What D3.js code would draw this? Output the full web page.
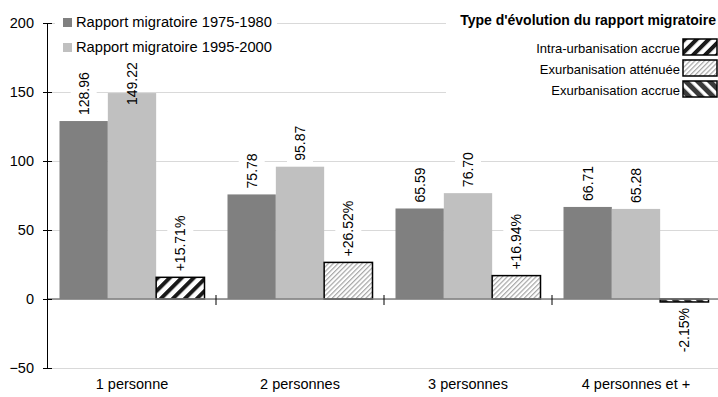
<!DOCTYPE html>
<html>
<head>
<meta charset="utf-8">
<script src="https://cdn.jsdelivr.net/npm/d3@7"></script>
<style>
  html, body { margin: 0; padding: 0; background: #fff; }
  svg { display: block; font-family: "Liberation Sans", Arial, sans-serif; }
</style>
</head>
<body>
<svg id="chart" width="718" height="397"></svg>
<script>
// Household size categories
const categories = ["1 personne", "2 personnes", "3 personnes", "4 personnes et +"];
// Migration ratio for the two periods
const rapport1975 = [128.96, 75.78, 65.59, 66.71];
const rapport1995 = [149.22, 95.87, 76.70, 65.28];
// Change between the two periods (%)
const evolution = [15.71, 26.52, 16.94, -2.15];
// Kind of change for each category (index into typeLabels)
const evolutionType = [0, 1, 1, 2];
const typeLabels = ["Intra-urbanisation accrue", "Exurbanisation atténuée", "Exurbanisation accrue"];
const seriesLabels = ["Rapport migratoire 1975-1980", "Rapport migratoire 1995-2000"];
const legendTitle = "Type d'évolution du rapport migratoire";
const yTicks = [-50, 0, 50, 100, 150, 200];

const svg = d3.select("#chart");
const W = 718;

// hatch fills for the evolution bars
const defs = svg.append("defs");
function hatch(id, angle, size, stripe, color) {
  const p = defs.append("pattern")
    .attr("id", id).attr("patternUnits", "userSpaceOnUse")
    .attr("width", size).attr("height", size)
    .attr("patternTransform", `rotate(${angle})`);
  p.append("rect").attr("width", size).attr("height", size).attr("fill", "#fff");
  p.append("rect").attr("x", 0).attr("y", 0).attr("width", stripe).attr("height", size).attr("fill", color);
}
hatch("h0", 45, 8.5, 4, "#1a1a1a");
hatch("h1", 45, 3.4, 1.2, "#a6a6a6");
hatch("h2", -45, 8.5, 5, "#3a3a3a");
const typeFill = i => `url(#h${i})`;

const y = d3.scaleLinear().domain([-50, 200]).range([368, 23]);
const x0 = d3.scaleBand().domain(categories).range([48, 720]);
const keys = ["a", "b", "c"];
const x1 = d3.scaleBand().domain(keys).range([11.5, x0.bandwidth() - 11.5]);

// horizontal grid
svg.append("g")
  .attr("transform", "translate(47,0)")
  .call(d3.axisLeft(y).tickValues(yTicks).tickSize(-(W - 47)).tickFormat(""))
  .call(g => g.select(".domain").remove())
  .call(g => g.selectAll("line").attr("stroke", "#d9d9d9").attr("stroke-width", 1));

// legend backgrounds cover the grid
svg.append("rect").attr("x", 55).attr("y", 10).attr("width", 222).attr("height", 48).attr("fill", "#fff");
svg.append("rect").attr("x", 446).attr("y", 8).attr("width", 272).attr("height", 95).attr("fill", "#fff");

const groups = svg.append("g").selectAll("g")
  .data(categories).join("g")
  .attr("transform", d => `translate(${x0(d)},0)`);

const rows = categories.map((c, i) => [
  { key: "a", v: rapport1975[i], fill: "#808080", label: rapport1975[i].toFixed(2) },
  { key: "b", v: rapport1995[i], fill: "#c0c0c0", label: rapport1995[i].toFixed(2) },
  { key: "c", v: evolution[i], fill: typeFill(evolutionType[i]), stroke: true,
    label: (evolution[i] > 0 ? "+" : "") + evolution[i].toFixed(2) + "%" }
]);

groups.each(function(c, i) {
  const g = d3.select(this);
  g.selectAll("rect.bar").data(rows[i]).join("rect")
    .attr("class", "bar")
    .attr("x", d => x1(d.key))
    .attr("width", x1.bandwidth())
    .attr("y", d => y(Math.max(0, d.v)))
    .attr("height", d => Math.abs(y(d.v) - y(0)))
    .attr("fill", d => d.fill)
    .attr("stroke", d => d.stroke ? "#000" : "none")
    .attr("stroke-width", d => d.stroke ? 1.5 : 0);
});

// zero line
svg.append("line").attr("x1", 47).attr("x2", W).attr("y1", y(0)).attr("y2", y(0))
  .attr("stroke", "#7f7f7f").attr("stroke-width", 1.5);

// category separators on the zero line
svg.append("g").selectAll("line")
  .data(categories.slice(1)).join("line")
  .attr("x1", d => x0(d)).attr("x2", d => x0(d))
  .attr("y1", y(0) - 4).attr("y2", y(0) + 6)
  .attr("stroke", "#000").attr("stroke-width", 1);

// value labels, rotated, on a white ground; kept below the legend band
const labelTopLimit = 62;
groups.each(function(c, i) {
  const g = d3.select(this);
  rows[i].forEach(d => {
    const cx = x1(d.key) + x1.bandwidth() / 2;
    const pos = d.v >= 0;
    const lg = g.append("g");
    const bg = lg.append("rect").attr("fill", "#fff");
    const t = lg.append("text")
      .attr("text-anchor", pos ? "start" : "end")
      .attr("dy", "0.35em")
      .attr("font-size", 14)
      .attr("fill", "#000")
      .text(d.label);
    const b = t.node().getBBox();
    let base = pos ? y(d.v) - 6 : y(d.v) + 6;
    let boxed = true;
    if (pos && base - b.width < labelTopLimit) {
      base = labelTopLimit + b.width;
      boxed = false;
    }
    lg.attr("transform", `translate(${cx},${base}) rotate(-90)`);
    if (boxed) bg.attr("x", b.x - 3).attr("y", -13).attr("width", b.width + 6).attr("height", 26);
    else bg.remove();
  });
});

// y axis
svg.append("g")
  .attr("transform", "translate(47,0)")
  .call(d3.axisLeft(y).tickValues(yTicks).tickSizeInner(4).tickSizeOuter(0).tickPadding(9))
  .call(g => g.select(".domain").attr("stroke", "#000"))
  .call(g => g.selectAll(".tick line").attr("x1", -4).attr("x2", 5).attr("stroke", "#000"))
  .call(g => g.selectAll(".tick text")
    .attr("font-size", 14.5).attr("fill", "#000")
    .attr("font-family", "'Liberation Sans', Arial, sans-serif"));

// category labels
svg.append("g").selectAll("text")
  .data(categories).join("text")
  .attr("x", d => x0(d) + x0.bandwidth() / 2)
  .attr("y", 389)
  .attr("text-anchor", "middle")
  .attr("font-size", 14.5)
  .text(d => d);

// series legend
const sl = svg.append("g");
[["#808080", 18], ["#c0c0c0", 43]].forEach(([col, yy], i) => {
  sl.append("rect").attr("x", 63).attr("y", yy).attr("width", 9).attr("height", 9).attr("fill", col);
  sl.append("text").attr("x", 76).attr("y", yy + 9).attr("font-size", 14.7).text(seriesLabels[i]);
});

// evolution type legend
const tl = svg.append("g");
tl.append("text").attr("x", 716).attr("y", 25).attr("text-anchor", "end")
  .attr("font-size", 14).attr("font-weight", "bold").text(legendTitle);
typeLabels.forEach((lab, i) => {
  const yy = 39 + i * 21;
  tl.append("rect").attr("x", 683).attr("y", yy).attr("width", 34).attr("height", 16)
    .attr("fill", typeFill(i)).attr("stroke", "#000").attr("stroke-width", 1.5);
  tl.append("text").attr("x", 680).attr("y", yy + 14).attr("text-anchor", "end")
    .attr("font-size", 13).text(lab);
});
</script>
</body>
</html>
